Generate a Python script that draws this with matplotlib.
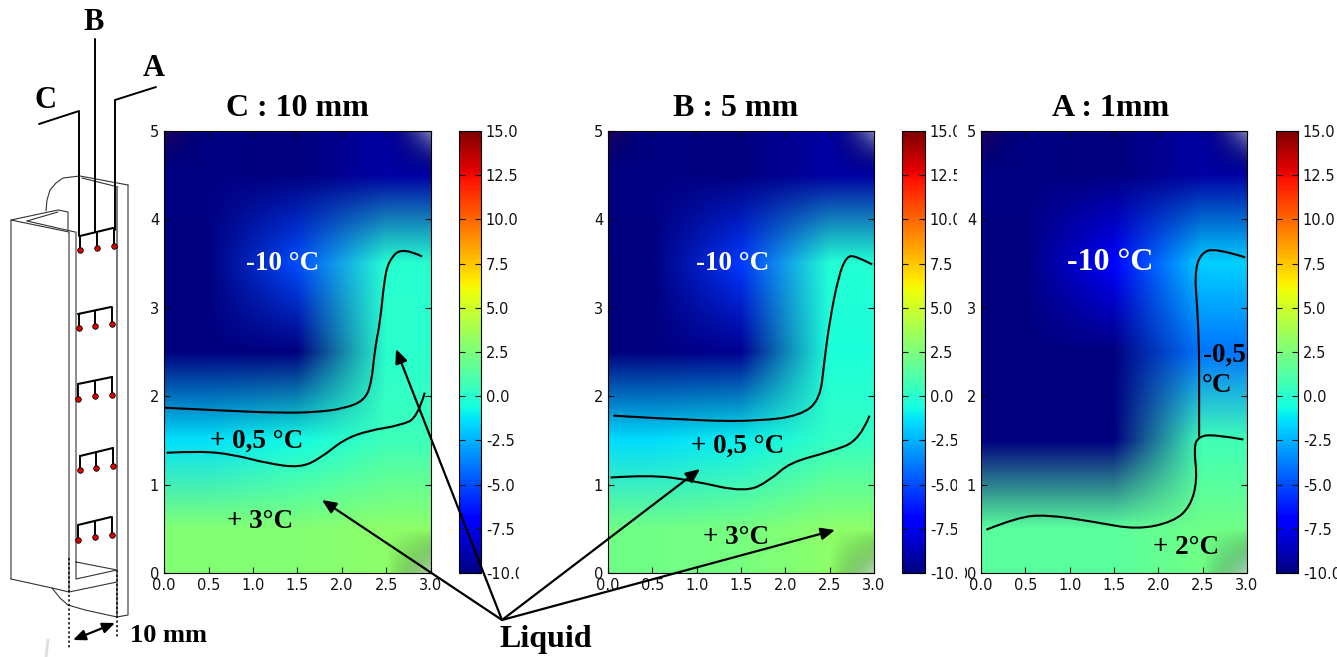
# -*- coding: utf-8 -*-
"""
Temperature maps at three depths (C, B, A) with the probe sketch on the left.
Each map is a 5 x 3 sensor grid drawn with bilinear smoothing.
"""

import numpy as np
import matplotlib
matplotlib.use("Agg")
import matplotlib.pyplot as plt
from matplotlib.path import Path
from matplotlib.patches import PathPatch, Rectangle
from matplotlib.colors import Normalize
from matplotlib.cm import ScalarMappable

W, H = 1337, 657

plt.rcParams['axes.unicode_minus'] = False
plt.rcParams['xtick.direction'] = 'in'
plt.rcParams['ytick.direction'] = 'in'
plt.rcParams['xtick.top'] = True
plt.rcParams['ytick.right'] = True
plt.rcParams['font.size'] = 10.5

SERIF = 'Liberation Serif'

# =============================================================================
# DATA
# =============================================================================
# rows from y = 4.5 down to y = 0.5, columns x = 0.5, 1.5, 2.5
temp_c = [[-9.9, -10.0, -9.2],
          [-10.0, -5.0, -0.1],
          [-10.0, -10.0, 0.0],
          [-1.4, -0.7, 0.6],
          [2.7, 2.7, 3.0]]
temp_b = [[-9.9, -10.0, -9.2],
          [-10.0, -5.5, -0.2],
          [-10.0, -9.6, -0.4],
          [-1.5, -1.0, 0.3],
          [2.2, 2.4, 3.0]]
temp_a = [[-9.9, -10.0, -9.2],
          [-10.0, -7.0, -1.7],
          [-10.0, -10.0, -4.0],
          [-10.0, -10.0, 0.7],
          [1.5, 1.5, 2.2]]

c_top_x = [0.0, 0.6, 1.31, 1.72, 2.02, 2.25, 2.33, 2.37, 2.43, 2.47, 2.52, 2.68, 2.9]
c_top_y = [1.87, 1.84, 1.81, 1.82, 1.86, 1.95, 2.14, 2.54, 2.85, 3.27, 3.53, 3.69, 3.58]
c_low_x = [0.03, 0.4, 0.78, 1.16, 1.53, 1.76, 2.02, 2.29, 2.66, 2.85, 2.93]
c_low_y = [1.36, 1.38, 1.34, 1.24, 1.19, 1.30, 1.51, 1.61, 1.67, 1.76, 2.04]

b_top_x = [0.06, 1.04, 1.72, 2.16, 2.39, 2.44, 2.5, 2.6, 2.69, 2.79, 2.98]
b_top_y = [1.78, 1.72, 1.72, 1.78, 1.95, 2.4, 2.85, 3.36, 3.58, 3.59, 3.49]
b_low_x = [0.03, 0.47, 0.93, 1.55, 1.83, 2.05, 2.5, 2.84, 2.95]
b_low_y = [1.08, 1.11, 1.05, 0.91, 1.05, 1.25, 1.37, 1.5, 1.78]

a_top_x = [2.98, 2.64, 2.47, 2.41, 2.44, 2.46, 2.46, 2.46]
a_top_y = [3.57, 3.68, 3.61, 3.38, 3.0, 2.52, 2.14, 1.54]
a_low_x = [2.96, 2.62, 2.45, 2.40, 2.44, 2.36, 2.17, 1.76, 1.27, 0.74, 0.41, 0.06]
a_low_y = [1.51, 1.57, 1.54, 1.42, 1.05, 0.75, 0.58, 0.49, 0.58, 0.66, 0.63, 0.49]

cbar_ticks = [-10.0, -7.5, -5.0, -2.5, 0.0, 2.5, 5.0, 7.5, 10.0, 12.5, 15.0]
x_ticks = [0.0, 0.5, 1.0, 1.5, 2.0, 2.5, 3.0]
y_ticks = [0, 1, 2, 3, 4, 5]

# panel boxes in pixels: left, right, colorbar left, colorbar right
panels = [(164, 431, 459, 481, temp_c, [(c_top_x, c_top_y), (c_low_x, c_low_y)]),
          (608, 874, 902, 925, temp_b, [(b_top_x, b_top_y), (b_low_x, b_low_y)]),
          (981, 1247, 1276, 1298, temp_a, [(a_top_x, a_top_y), (a_low_x, a_low_y)])]
PANEL_TOP, PANEL_BOTTOM = 131, 573

# text, x, y, size, colour
labels = [("C : 10 mm", 297, 109, 23, 'black'),
          ("B : 5 mm", 736, 108, 23, 'black'),
          ("A : 1mm", 1111, 108, 23, 'black'),
          ("-10 °C", 283, 264, 19.5, 'white'),
          ("-10 °C", 733, 264, 19.5, 'white'),
          ("-10 °C", 1110, 262, 23, 'white'),
          ("+ 0,5 °C", 257, 441, 19.5, 'black'),
          ("+ 0,5 °C", 738, 446, 19.5, 'black'),
          ("+ 3°C", 260, 521, 19.5, 'black'),
          ("+ 3°C", 736, 537, 19.5, 'black'),
          ("+ 2°C", 1186, 548, 19.5, 'black'),
          ("-0,5", 1224, 355, 19.5, 'black'),
          ("°C", 1217, 386, 19.5, 'black'),
          ("Liquid", 546, 640, 23, 'black'),
          ("10 mm", 168, 635, 19, 'black'),
          ("B", 94, 22, 22, 'black'),
          ("A", 154, 69, 22, 'black'),
          ("C", 45, 101, 22, 'black')]

liquid_from = (502, 620)
liquid_to = [(396, 349), (322, 500), (700, 469), (835, 530)]

# probe sketch, pixel polylines
sketch_thin = [
    [(11, 579), (11, 220), (69, 232), (69, 592)],
    [(11, 220), (58, 210), (68, 212), (68, 230)],
    [(27, 221), (58, 212)],
    [(27, 221), (75, 232)],
    [(11, 579), (52, 588), (69, 592), (117, 582)],
    [(76, 232), (76, 579), (117, 570), (76, 562)],
    [(128, 185), (128, 615), (117, 617)],
    [(52, 588), (60, 598), (68, 605), (85, 610), (117, 617)],
    [(46, 211), (47, 200), (50, 190), (56, 183), (63, 178), (80, 176), (128, 185)],
    [(82, 178), (118, 187)],
]
sketch_wall = [[(117, 187), (117, 617)]]
leads = [[(39, 124), (79, 111), (79, 236)],
         [(95, 39), (95, 232)],
         [(156, 87), (115, 100), (115, 230)]]
rack_bars = [[(80, 236), (113, 228)], [(78, 314), (111, 307)], [(78, 384), (112, 377)],
             [(80, 456), (113, 448)], [(78, 525), (111, 517)]]
rack_dots = [[(79.5, 250), (96.5, 248), (113.5, 246)],
             [(78.5, 328), (95, 326), (112, 324)],
             [(78, 399), (95, 396), (112, 395)],
             [(80, 470), (96, 468), (113, 466)],
             [(78, 540), (95, 537), (112, 535)]]
dotted = [[(68.5, 558), (68.5, 648)], [(117, 570), (117, 637)]]
width_arrow = [(73, 640), (115, 623)]
smudge = [(48, 640), (46, 657)]

# colour of the faded corners of each map: (row, col) on a 0.5 step grid
corner_fade = [(0, 0, (0.5, 0.0, 0.0, 0.30)),
               (0, 6, (0.8, 0.8, 0.85, 0.65)),
               (10, 6, (0.8, 0.8, 0.85, 0.65))]


def smooth_path(xs, ys):
    """Path through the midpoints, with the read points as controls."""
    pts = np.column_stack([xs, ys])
    verts = [pts[0]]
    codes = [Path.MOVETO]
    for i in range(1, len(pts) - 1):
        end = pts[i + 1] if i == len(pts) - 2 else (pts[i] + pts[i + 1]) / 2
        verts += [pts[i], end]
        codes += [Path.CURVE3, Path.CURVE3]
    return Path(verts, codes)


# =============================================================================
# FIGURE
# =============================================================================
fig = plt.figure(figsize=(W / 100, H / 100), dpi=100, facecolor='white')

norm = Normalize(-10, 15)
cmap = plt.get_cmap('jet')


def box(left, right):
    return [left / W, 1 - PANEL_BOTTOM / H, (right - left) / W, (PANEL_BOTTOM - PANEL_TOP) / H]


for left, right, cb_left, cb_right, temp, lines in panels:
    ax = fig.add_axes(box(left, right))
    # RGB image so the smoothing blends colours, not temperatures
    ax.imshow(cmap(norm(np.array(temp))), extent=(0, 3, 0, 5), aspect='auto',
              interpolation='bilinear', origin='upper')
    fade = np.zeros((11, 7, 4))
    for row, col, colour in corner_fade:
        fade[row, col] = colour
    ax.imshow(fade, extent=(-0.25, 3.25, -0.25, 5.25), aspect='auto',
              interpolation='bilinear', origin='upper')
    for xs, ys in lines:
        ax.add_patch(PathPatch(smooth_path(xs, ys), fill=False, color='black', lw=1.5))
    ax.set_xlim(0, 3)
    ax.set_ylim(0, 5)
    ax.set_xticks(x_ticks)
    ax.set_xticklabels([f"{v:.1f}" for v in x_ticks])
    ax.set_yticks(y_ticks)
    ax.tick_params(length=4, width=0.8, colors='#111111')

    cax = fig.add_axes(box(cb_left, cb_right))
    cbar = fig.colorbar(ScalarMappable(norm=norm, cmap=cmap), cax=cax, ticks=cbar_ticks)
    cbar.ax.set_yticklabels([f"{v:.1f}" for v in cbar_ticks])
    cbar.ax.tick_params(length=4, width=0.8, direction='in', left=True, right=True, colors='#111111')

# overlay in pixel coordinates
ov = fig.add_axes([0, 0, 1, 1], zorder=10, facecolor='none')
ov.set_xlim(0, W)
ov.set_ylim(H, 0)
ov.axis('off')

# colorbar labels are cut by the next panel in the source image
ov.add_patch(Rectangle((519, 120), 71, 470, facecolor='white', edgecolor='none', zorder=1))
ov.add_patch(Rectangle((957, 120), 8, 470, facecolor='white', edgecolor='none', zorder=1))


def draw(line, **kw):
    ov.plot([p[0] for p in line], [p[1] for p in line], zorder=2,
            solid_capstyle='round', solid_joinstyle='round', **kw)


for line in sketch_thin:
    draw(line, color='#333333', lw=0.8)
for line in sketch_wall:
    draw(line, color='#777777', lw=1.4)
for line in leads:
    draw(line, color='black', lw=1.4)
for line in rack_bars:
    draw(line, color='black', lw=1.5)
for bar, dots in zip(rack_bars, rack_dots):
    for i, (dx, dy) in enumerate(dots):
        top = bar[0][1] + (bar[1][1] - bar[0][1]) * i / 2
        draw([(dx, top), (dx, dy)], color='black', lw=1.4)
        ov.plot([dx], [dy], 'o', ms=4, mfc='#e00000', mec='black', mew=0.6, zorder=3)
for line in dotted:
    ov.plot([p[0] for p in line], [p[1] for p in line], color='black', lw=1.1,
            ls=(0, (1.5, 1.5)), zorder=2)
draw(smudge, color='#dddddd', lw=2)
ov.annotate('', xy=width_arrow[1], xytext=width_arrow[0], zorder=4,
            arrowprops=dict(arrowstyle='<|-|>,head_length=0.7,head_width=0.3', color='black',
                            lw=1.6, shrinkA=0, shrinkB=0))

for target in liquid_to:
    ov.annotate('', xy=target, xytext=liquid_from, zorder=4,
                arrowprops=dict(arrowstyle='-|>,head_length=0.8,head_width=0.35', color='black',
                                lw=1.6, shrinkA=0, shrinkB=0))

for text, x, y, size, colour in labels:
    ov.text(x, y, text, family=SERIF, fontweight='bold', fontsize=size, color=colour,
            ha='center', va='center', zorder=5)

fig.savefig('out.png', dpi=100, facecolor='white')
